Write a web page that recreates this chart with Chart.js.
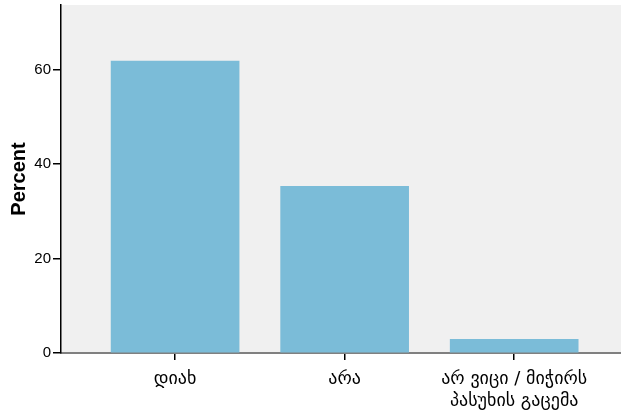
<!DOCTYPE html>
<html>
<head>
<meta charset="utf-8">
<script src="https://cdn.jsdelivr.net/npm/chart.js@4/dist/chart.umd.min.js"></script>
<style>
  html, body { margin: 0; padding: 0; background: #fff; }
  #wrap { width: 621px; height: 413px; }
</style>
</head>
<body>
<div id="wrap"><canvas id="canvas" width="621" height="413"></canvas></div>
<script>
var categories = ['დიახ', 'არა', ['არ ვიცი / მიჭირს', 'პასუხის გაცემა']];
var percents = [61.8, 35.3, 2.9];
var yTicks = [0, 20, 40, 60];

var plotBg = {
	id: 'plotBg',
	beforeDraw: function(chart) {
		var a = chart.chartArea, c = chart.ctx;
		c.save();
		c.fillStyle = '#f0f0f0';
		c.fillRect(a.left, a.top, a.right - a.left, a.bottom - a.top);
		c.restore();
	}
};

var ctx = document.getElementById('canvas').getContext('2d');

new Chart(ctx, {
	type: 'bar',
	data: {
		datasets: [{
			data: percents.map(function(v, i) { return { x: i, y: v }; }),
			backgroundColor: '#7bbcd8',
			borderWidth: 0,
			barThickness: 128
		}]
	},
	options: {
		responsive: false,
		animation: false,
		layout: { padding: { top: 5, left: 0, right: 0, bottom: 0 } },
		plugins: { legend: { display: false }, tooltip: { enabled: false } },
		scales: {
			x: {
				type: 'linear',
				min: -0.673,
				max: 2.63,
				offset: false,
				afterBuildTicks: function(scale) {
					scale.ticks = categories.map(function(c, i) { return { value: i }; });
				},
				afterFit: function(scale) {
					scale.height = 60;
					scale.paddingLeft = 0;
					scale.paddingRight = 0;
				},
				border: { display: true, color: '#808080', width: 2 },
				grid: { display: true, offset: false, drawOnChartArea: false, drawTicks: true, tickLength: 7, color: '#000', lineWidth: 1.5 },
				ticks: {
					autoSkip: false,
					maxRotation: 0,
					padding: 8,
					color: '#000',
					font: { family: 'DejaVu Sans, sans-serif', size: 18, lineHeight: 1.22 },
					callback: function(v) { return categories[v]; }
				}
			},
			y: {
				min: 0,
				max: 73.7,
				afterBuildTicks: function(scale) {
					scale.ticks = yTicks.map(function(v) { return { value: v }; });
				},
				afterFit: function(scale) {
					scale.width = 61;
					scale.paddingTop = 0;
					scale.paddingBottom = 0;
				},
				border: { display: true, color: '#000', width: 1.5 },
				grid: { display: true, drawOnChartArea: false, drawTicks: true, tickLength: 8, color: '#000', lineWidth: 1.5 },
				ticks: {
					padding: 2,
					color: '#000',
					font: { family: 'Liberation Sans, Arial, sans-serif', size: 15 }
				},
				title: {
					display: true,
					text: 'Percent',
					color: '#000',
					padding: { top: 7, bottom: 4 },
					font: { family: 'Liberation Sans, Arial, sans-serif', size: 20, weight: 'bold' }
				}
			}
		}
	},
	plugins: [plotBg]
});
</script>
</body>
</html>
